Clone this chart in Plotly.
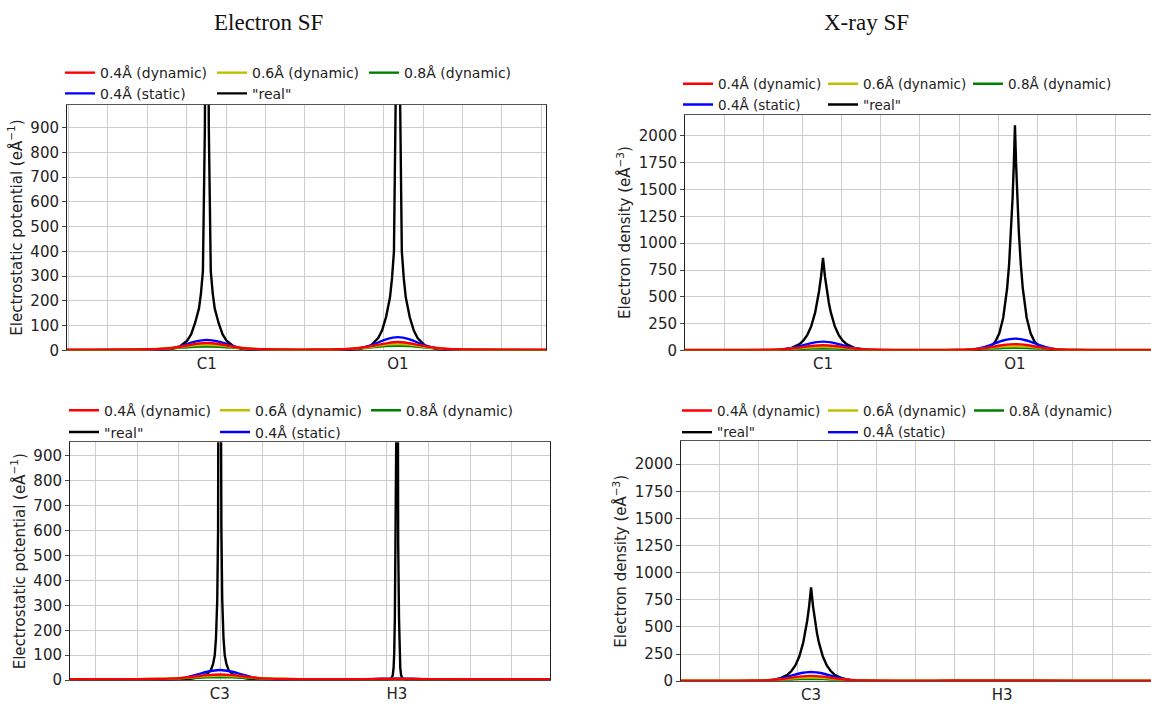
import plotly.graph_objects as go

W, H = 1151, 708

# ---------------- data (positions along the profile line, in grid units) -------------
# Top-left: Electron SF, C1 / O1
TL_ATOMS = ["C1", "O1"]
TL_ATOM_X = [2.51, 7.36]
TL_X = [-1.04, 0.0, 0.6, 1.01, 1.31, 1.61, 1.91, 2.21, 2.51, 2.81, 3.11, 3.41, 3.71, 4.01,
        4.5, 4.94, 5.4, 5.86, 6.16, 6.46, 6.76, 7.06, 7.36, 7.66, 7.96, 8.26, 8.56, 8.86,
        9.4, 10.2, 11.12]
TL_RED = [3.5, 3.5, 4, 5, 6.5, 10, 17, 26, 30, 26, 17, 10, 6.5, 5, 4, 3.5, 4, 5, 7, 12,
          20, 29, 34, 29, 20, 12, 7, 5, 4, 3.5, 3.5]
TL_YELLOW = [2.5, 2.5, 3, 4, 6, 9.5, 15, 21, 23, 21, 15, 9.5, 6, 4, 3, 2.5, 3, 4, 6.5,
             10.5, 17, 24, 26, 24, 17, 10.5, 6.5, 4, 3, 2.5, 2.5]
TL_GREEN = [2.5, 3, 3.5, 4.5, 6, 8.5, 11.5, 15, 16, 15, 11.5, 8.5, 6, 4.5, 3.5, 3, 3.5,
            4.5, 6.5, 9.5, 13.5, 17.5, 19, 17.5, 13.5, 9.5, 6.5, 4.5, 3.5, 3, 2.5]
TL_BLUE = [1, 1, 1.5, 2, 3, 8.5, 21, 36, 43, 36, 21, 8.5, 3, 1.5, 1, 1, 1, 2, 4, 11, 26,
           45, 54, 45, 26, 11, 4, 2, 1, 1, 1]
TL_X_REAL = [-1.04, 1.01, 1.51, 1.81, 2.01, 2.11, 2.21, 2.31, 2.36, 2.41, 2.46, 2.48, 2.51,
             2.54, 2.56, 2.61, 2.66, 2.71, 2.81, 2.91, 3.01, 3.21, 3.51, 4.01, 4.94, 5.86,
             6.36, 6.66, 6.86, 6.96, 7.06, 7.16, 7.21, 7.26, 7.31, 7.33, 7.36, 7.39, 7.41,
             7.46, 7.51, 7.56, 7.66, 7.76, 7.86, 8.06, 8.36, 8.86, 11.12]
TL_REAL = [0, 1, 4, 14, 40, 65, 110, 170, 230, 320, 900, 1500, 4000, 1500, 900, 320, 230,
           170, 110, 65, 40, 14, 4, 1, 0, 1, 5, 18, 50, 82, 135, 215, 290, 400, 1100, 1900,
           5000, 1900, 1100, 400, 290, 215, 135, 82, 50, 18, 5, 1, 0]

# Top-right: X-ray SF, C1 / O1
TR_ATOMS = ["C1", "O1"]
TR_ATOM_X = [2.52, 7.43]
TR_X = [-1.01, 0.0, 0.6, 1.02, 1.32, 1.62, 1.92, 2.22, 2.52, 2.82, 3.12, 3.42, 3.72, 4.02,
        4.5, 4.98, 5.45, 5.93, 6.23, 6.53, 6.83, 7.13, 7.43, 7.73, 8.03, 8.33, 8.63, 8.93,
        9.5, 10.2, 10.91]
TR_RED = [6, 6, 6, 6.5, 8, 14, 27, 42, 49, 42, 27, 14, 8, 6.5, 6, 6, 6, 6.5, 9, 16, 32, 51,
          59, 51, 32, 16, 9, 6.5, 6, 6, 6]
TR_YELLOW = [4, 4, 4, 4.5, 7, 13, 22, 30.5, 34, 30.5, 22, 13, 7, 4.5, 4, 4, 4, 5, 8, 15,
             26, 36, 40, 36, 26, 15, 8, 5, 4, 4, 4]
TR_GREEN = [3, 3, 3, 3.5, 5.5, 9, 13.5, 17.5, 19, 17.5, 13.5, 9, 5.5, 3.5, 3, 3, 3, 4, 7,
            12, 18, 23, 25, 23, 18, 12, 7, 4, 3, 3, 3]
TR_BLUE = [0.5, 0.5, 0.5, 1, 5, 16, 40, 69, 83, 69, 40, 16, 5, 1, 0.5, 0.5, 0.5, 1.5, 6,
           22, 54, 93, 111, 93, 54, 22, 6, 1.5, 0.5, 0.5, 0.5]
TR_X_REAL = [-1.01, 0.82, 1.22, 1.52, 1.72, 1.92, 2.02, 2.12, 2.22, 2.32, 2.37, 2.42, 2.47,
             2.52, 2.57, 2.62, 2.67, 2.72, 2.82, 2.92, 3.02, 3.12, 3.32, 3.52, 3.82, 4.22,
             5.0, 6.13, 6.43, 6.63, 6.83, 6.93, 7.03, 7.13, 7.23, 7.28, 7.33, 7.37, 7.40,
             7.43, 7.46, 7.49, 7.53, 7.58, 7.63, 7.73, 7.83, 7.93, 8.03, 8.23, 8.43, 8.73,
             10.91]
TR_REAL = [0, 0.5, 3, 10, 25, 60, 94, 146, 227, 355, 443, 555, 690, 864, 690, 555, 443,
           355, 227, 146, 94, 60, 25, 10, 3, 0.5, 0, 0.5, 3.5, 12, 44, 84, 160, 305, 580,
           800, 1100, 1425, 1730, 2100, 1730, 1425, 1100, 800, 580, 305, 160, 84, 44, 12,
           3.5, 0.5, 0]

# Bottom-left: Electron SF, C3 / H3
BL_ATOMS = ["C3", "H3"]
BL_ATOM_X = [1.98, 6.24]
BL_X = [-1.62, -0.8, 0.0, 0.48, 0.78, 1.08, 1.38, 1.68, 1.98, 2.28, 2.58, 2.88, 3.18, 3.48,
        4.0, 4.6, 5.1, 5.44, 5.84, 6.24, 6.64, 7.04, 7.5, 8.2, 9.0, 9.92]
BL_RED = [4, 4, 4, 5, 6.5, 9.5, 15, 20.5, 23, 20.5, 15, 9.5, 6.5, 5, 4, 4, 4, 4.5, 5, 5.5,
          5, 4.5, 4, 4, 4, 4]
BL_YELLOW = [3.5, 3.5, 4, 5, 6.5, 9, 13, 17, 19, 17, 13, 9, 6.5, 5, 4, 3.5, 3.5, 4, 4.5, 5,
             4.5, 4, 3.5, 3.5, 3.5, 3.5]
BL_GREEN = [3, 3.5, 4, 5, 6, 7.5, 9.5, 11.5, 12, 11.5, 9.5, 7.5, 6, 5, 4, 3.5, 3.5, 3.5, 4,
            4, 4, 3.5, 3.5, 3, 3, 3]
BL_BLUE = [1, 1, 1, 1.5, 3, 8, 20, 34, 41, 34, 20, 8, 3, 1.5, 1, 1, 1.5, 3, 6, 7.5, 6, 3,
           1.5, 1, 1, 1]
BL_X_REAL = [-1.62, 0.48, 0.98, 1.28, 1.53, 1.68, 1.77, 1.82, 1.86, 1.89, 1.92, 1.94, 1.96,
             1.98, 2.00, 2.02, 2.04, 2.07, 2.10, 2.14, 2.19, 2.28, 2.43, 2.68, 2.98, 3.48,
             4.2, 5.54, 5.84, 6.04, 6.11, 6.14, 6.16, 6.175, 6.19, 6.21, 6.225, 6.24, 6.255,
             6.27, 6.29, 6.305, 6.32, 6.34, 6.37, 6.44, 6.64, 6.94, 9.92]
BL_REAL = [0, 1, 3, 6, 13, 25, 42, 65, 100, 170, 320, 600, 1500, 4000, 1500, 600, 320, 170,
           100, 65, 42, 25, 13, 6, 3, 1, 0, 0.3, 1, 3, 8, 20, 50, 110, 250, 550, 1000, 3000,
           1000, 550, 250, 110, 50, 20, 8, 3, 1, 0.3, 0]

# Bottom-right: X-ray SF, C3 / H3
BR_ATOMS = ["C3", "H3"]
BR_ATOM_X = [2.34, 7.20]
BR_X = [-0.97, 0.0, 0.5, 0.84, 1.14, 1.44, 1.74, 2.04, 2.34, 2.64, 2.94, 3.24, 3.54, 3.84,
        4.5, 5.5, 6.5, 7.2, 7.9, 9.0, 10.99]
BR_RED = [6, 6, 6, 6.5, 8, 14, 27, 42, 49, 42, 27, 14, 8, 6.5, 6, 6, 6.5, 7, 6.5, 6, 6]
BR_YELLOW = [4, 4, 4, 4.5, 7, 13, 22, 30.5, 34, 30.5, 22, 13, 7, 4.5, 4, 4, 4, 4.5, 4, 4, 4]
BR_GREEN = [3, 3, 3, 3.5, 6, 10, 15, 19.5, 21, 19.5, 15, 10, 6, 3.5, 3, 3, 3, 3.5, 3, 3, 3]
BR_BLUE = [0.5, 0.5, 0.5, 1, 5, 16, 41, 71, 85, 71, 41, 16, 5, 1, 0.5, 0.5, 1.5, 2.5, 1.5,
           0.5, 0.5]
BR_X_REAL = [-0.97, 0.64, 1.04, 1.34, 1.54, 1.74, 1.84, 1.94, 2.04, 2.14, 2.19, 2.24, 2.29,
             2.34, 2.39, 2.44, 2.49, 2.54, 2.64, 2.74, 2.84, 2.94, 3.14, 3.34, 3.64, 4.04,
             6.6, 7.0, 7.2, 7.4, 7.8, 10.99]
BR_REAL = [0, 0.5, 3, 10, 25, 60, 94, 146, 227, 355, 443, 555, 690, 864, 690, 555, 443,
           355, 227, 146, 94, 60, 25, 10, 3, 0.5, 0, 0.3, 0.5, 0.3, 0, 0]

SERIES_NAMES = ["0.4Å (dynamic)", "0.6Å (dynamic)", "0.8Å (dynamic)", "0.4Å (static)", '"real"']
SERIES_COLORS = ["#ff0000", "#bfbf00", "#008000", "#0000ff", "#000000"]
PANEL_TITLES = ["Electron SF", "X-ray SF"]
YTITLES = ["Electrostatic potential (eÅ<sup>−1</sup>)", "Electron density (eÅ<sup>−3</sup>)"]


def px_x(v):
    return v / W


def px_y(v):
    return 1 - v / H


panels = [
    dict(x=TL_X, red=TL_RED, yel=TL_YELLOW, grn=TL_GREEN, blu=TL_BLUE, xr=TL_X_REAL,
         real=TL_REAL, atoms=TL_ATOMS, ax=TL_ATOM_X, xrange=[-1.04, 11.12],
         yrange=[0, 993], dtick=100, box=(67, 546, 106, 355), leg=(74, 95), lx=66,
         ew=107, lf=14, row2=["blue", "black"], yt=YTITLES[0], right=True),
    dict(x=TR_X, red=TR_RED, yel=TR_YELLOW, grn=TR_GREEN, blu=TR_BLUE, xr=TR_X_REAL,
         real=TR_REAL, atoms=TR_ATOMS, ax=TR_ATOM_X, xrange=[-1.01, 10.91],
         yrange=[0, 2200], dtick=250, box=(685, 1151, 116, 355), leg=(85, 106), lx=684,
         ew=100, lf=13.5, row2=["blue", "black"], yt=YTITLES[1], right=False),
    dict(x=BL_X, red=BL_RED, yel=BL_YELLOW, grn=BL_GREEN, blu=BL_BLUE, xr=BL_X_REAL,
         real=BL_REAL, atoms=BL_ATOMS, ax=BL_ATOM_X, xrange=[-1.62, 9.92],
         yrange=[0, 952], dtick=100, box=(70, 550, 448, 689), leg=(416, 438), lx=70,
         ew=106, lf=14, row2=["black", "blue"], yt=YTITLES[0], right=True),
    dict(x=BR_X, red=BR_RED, yel=BR_YELLOW, grn=BR_GREEN, blu=BR_BLUE, xr=BR_X_REAL,
         real=BR_REAL, atoms=BR_ATOMS, ax=BR_ATOM_X, xrange=[-0.97, 10.99],
         yrange=[0, 2210], dtick=250, box=(681, 1151, 447, 690), leg=(416, 438), lx=683,
         ew=101, lf=13.5, row2=["black", "blue"], yt=YTITLES[1], right=False),
]

fig = go.Figure()
layout = dict(
    width=W, height=H, margin=dict(l=0, r=0, t=0, b=0),
    plot_bgcolor="white", paper_bgcolor="white",
    font=dict(family="DejaVu Sans", size=14, color="#222"),
    showlegend=True,
)

GRID = "#cdcdcd"
LW = 2.4
for i, p in enumerate(panels):
    n = i + 1
    xa = "x" if n == 1 else f"x{n}"
    ya = "y" if n == 1 else f"y{n}"
    l1 = "legend" if n == 1 else f"legend{2 * n - 1}"
    l2 = f"legend{2 * n}"
    order2 = {name: k + 1 for k, name in enumerate(p["row2"])}
    wide = p["ew"] + 20
    lw2 = {name: (wide if order2[name] == 2 else p["ew"]) for name in order2}
    common = dict(xaxis=xa, yaxis=ya, mode="lines", hoverinfo="skip")
    smooth = dict(shape="spline", smoothing=1, width=LW)
    # draw order: black, blue, green, yellow, red
    fig.add_trace(go.Scatter(x=p["xr"], y=p["real"], name=SERIES_NAMES[4],
                             line=dict(color=SERIES_COLORS[4], width=LW),
                             legend=l2, legendrank=order2["black"],
                             legendwidth=lw2["black"], **common))
    fig.add_trace(go.Scatter(x=p["x"], y=p["blu"], name=SERIES_NAMES[3],
                             line=dict(color=SERIES_COLORS[3], **smooth),
                             legend=l2, legendrank=order2["blue"],
                             legendwidth=lw2["blue"], **common))
    fig.add_trace(go.Scatter(x=p["x"], y=p["grn"], name=SERIES_NAMES[2],
                             line=dict(color=SERIES_COLORS[2], **smooth),
                             legend=l1, legendrank=3, legendwidth=wide, **common))
    fig.add_trace(go.Scatter(x=p["x"], y=p["yel"], name=SERIES_NAMES[1],
                             line=dict(color=SERIES_COLORS[1], **smooth),
                             legend=l1, legendrank=2, **common))
    fig.add_trace(go.Scatter(x=p["x"], y=p["red"], name=SERIES_NAMES[0],
                             line=dict(color=SERIES_COLORS[0], **smooth),
                             legend=l1, legendrank=1, **common))

    bl, br, bt, bb = p["box"]
    xkey = "xaxis" if n == 1 else f"xaxis{n}"
    ykey = "yaxis" if n == 1 else f"yaxis{n}"
    layout[xkey] = dict(
        domain=[px_x(bl), min(1.0, px_x(br))], anchor=ya, range=p["xrange"],
        tickmode="array", tickvals=p["ax"], ticktext=p["atoms"], showgrid=False,
        ticks="", tickfont=dict(size=15, color="#222"), zeroline=False,
        showline=True, mirror=True, linecolor="#555", linewidth=1, layer="below traces",
        minor=dict(dtick=1, tick0=0, showgrid=True, gridcolor=GRID, gridwidth=1, ticks=""),
    )
    layout[ykey] = dict(
        domain=[px_y(bb), px_y(bt)], anchor=xa, range=p["yrange"], dtick=p["dtick"],
        tick0=0, showgrid=True, gridcolor=GRID, gridwidth=1, zeroline=False,
        ticks="outside", ticklen=4, tickcolor="#444", tickfont=dict(size=15, color="#222"),
        showline=True, mirror=p["right"], linecolor="#222", linewidth=1,
        title=dict(text=p["yt"], font=dict(size=15, color="#222"), standoff=4),
    )
    for lk, yy in ((l1, p["leg"][0]), (l2, p["leg"][1])):
        layout[lk] = dict(
            orientation="h", x=px_x(p["lx"] - 6), xanchor="left", y=px_y(yy),
            yanchor="middle", entrywidth=p["ew"], entrywidthmode="pixels",
            bgcolor="rgba(0,0,0,0)", font=dict(size=p["lf"], color="#222"),
            traceorder="normal", itemwidth=30, tracegroupgap=0,
        )

fig.update_layout(**layout)

for title, cx in zip(PANEL_TITLES, [268, 866]):
    fig.add_annotation(text=title, x=px_x(cx), y=px_y(23), xref="paper", yref="paper",
                       showarrow=False, xanchor="center", yanchor="middle",
                       font=dict(family="Liberation Serif", size=23, color="#111"))

fig.write_html(
    "out.html",
    config={"displayModeBar": False, "staticPlot": True},
    post_script="document.body.style.margin='0';document.body.style.overflow='hidden';",
)
